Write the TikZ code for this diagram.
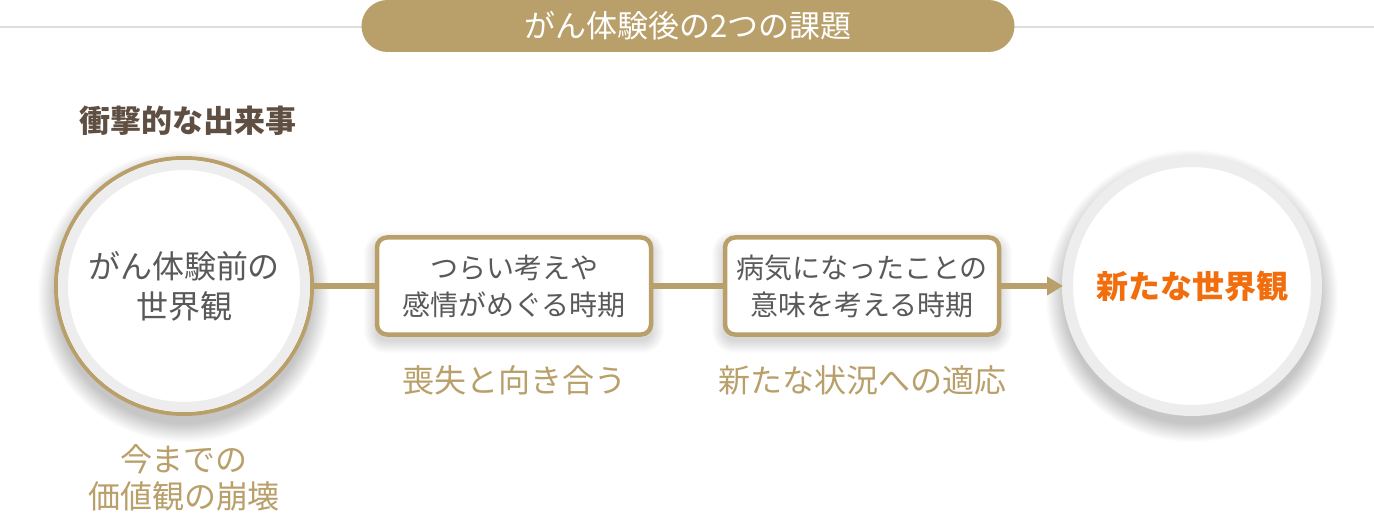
\documentclass[tikz,border=0pt]{standalone}
\usepackage{fontspec}
\setmainfont{Noto Sans CJK JP}
\usetikzlibrary{arrows.meta}
\definecolor{gold}{HTML}{B9A06A}
\definecolor{txtgray}{HTML}{595959}
\definecolor{brown}{HTML}{5F4F42}
\definecolor{orangec}{HTML}{F26D0C}
\definecolor{ringgray}{HTML}{EDEDED}
\definecolor{rimgray}{HTML}{C8C8C8}
\definecolor{topline}{HTML}{DDDDDD}
\tikzset{
  bigcircle/.style={circle, minimum size=256pt, inner sep=0pt, fill=white},
  stagebox/.style={rectangle, rounded corners=10pt, draw=gold, line width=4.5pt, fill=white,
    minimum width=274pt, minimum height=97pt, align=center, text=txtgray,
    font=\fontsize{28}{37}\selectfont},
  goldlabel/.style={text=gold, align=center, font=\fontsize{32}{37}\selectfont},
  conn/.style={draw=gold, line width=5pt},
  shadowlayer/.style={fill=black, opacity=0.012, draw=none},
}
\newcommand\circshadow[3]{% x, y, r
  \foreach \i in {0,1,...,18}{\fill[shadowlayer] (#1,#2+10) circle ({#3+\i});}}
\newcommand\boxshadow[4]{% x1,y1,x2,y2
  \foreach \i in {0,1,...,12}{\fill[shadowlayer, rounded corners={10+\i}] (#1-\i,#2-\i+6) rectangle (#3+\i,#4+\i+6);}}
\begin{document}
\begin{tikzpicture}[x=1pt,y=-1pt]
\useasboundingbox[fill=white] (0,0) rectangle (1374,513);
% top line and title pill
\coordinate (tl) at (0,27);
\coordinate (tr) at (1374,27);
\draw[topline, line width=1.5pt] (tl) -- (tr);
\node[fill=gold, rounded corners=26pt, minimum width=653pt, minimum height=52pt, inner sep=0pt,
  text=white, font=\fontsize{31}{34}\selectfont] (title) at (688,26) {がん体験後の2つの課題};
% heading
\node[anchor=west, text=brown, font=\fontsize{31}{34}\selectfont\bfseries] (head) at (76,121) {衝撃的な出来事};
% shadows
\circshadow{184}{286}{128}
\circshadow{1192}{286}{128}
\boxshadow{376}{237}{652}{335}
\boxshadow{724}{237}{1000}{335}
% left circle
\node[bigcircle, draw=gold, line width=4pt, align=center, text=txtgray,
  font=\fontsize{32}{40}\selectfont] (c1) at (184,286) {がん体験前の\\世界観};
\draw[ringgray, line width=10pt] (c1.center) circle (121pt);
% right circle
\node[bigcircle, draw=rimgray, line width=2pt, text=orangec,
  font=\fontsize{32}{36}\selectfont\bfseries] (c2) at (1192,286) {新たな世界観};
\draw[ringgray, line width=11pt] (c2.center) circle (124.5pt);
% boxes
\node[stagebox] (b1) at (514,286) {つらい考えや\\感情がめぐる時期};
\node[stagebox] (b2) at (862,286) {病気になったことの\\意味を考える時期};
% connectors
\draw[conn] (c1.east) -- (b1.west);
\draw[conn] (b1.east) -- (b2.west);
\draw[conn, -{Triangle[length=16pt,width=18pt]}] (b2.east) -- (c2.west);
% labels
\node[goldlabel] (l1) at (514,380) {喪失と向き合う};
\node[goldlabel] (l2) at (862,380) {新たな状況への適応};
\node[goldlabel] (l0) at (184,478) {今までの\\価値観の崩壊};
\end{tikzpicture}
\end{document}
